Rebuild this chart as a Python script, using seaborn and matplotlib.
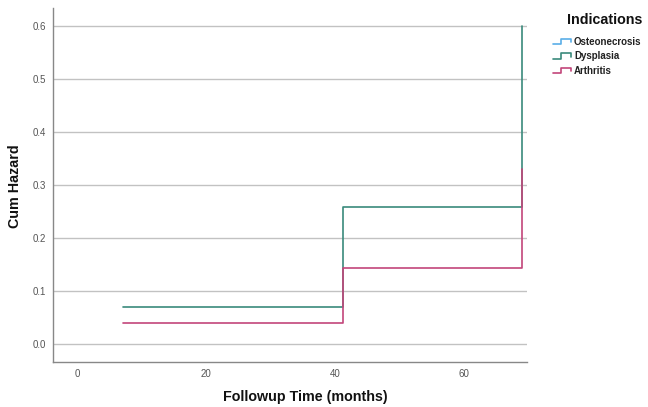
import matplotlib
matplotlib.use("Agg")
import matplotlib.pyplot as plt
import seaborn as sns
import pandas as pd
from matplotlib.legend_handler import HandlerBase
from matplotlib.lines import Line2D

sns.set_theme(style="white")
plt.rcParams['font.family'] = ['Liberation Sans', 'DejaVu Sans']

groups = ["Osteonecrosis", "Dysplasia", "Arthritis"]
colors = ["#5aaee8", "#3a8a7c", "#c2457a"]
dys_time = [7.2, 41.2, 69.1]
dys_hazard = [0.07, 0.258, 0.60]
art_time = [7.2, 41.2, 69.1]
art_hazard = [0.04, 0.143, 0.33]
x_ticks = [0, 20, 40, 60]
y_ticks = [0.0, 0.1, 0.2, 0.3, 0.4, 0.5, 0.6]

df = pd.concat([
    pd.DataFrame({"time": dys_time, "hazard": dys_hazard, "group": "Dysplasia"}),
    pd.DataFrame({"time": art_time, "hazard": art_hazard, "group": "Arthritis"}),
])

fig = plt.figure(figsize=(6.48, 4.07), dpi=100)
ax = fig.add_axes([0.082, 0.111, 0.731, 0.869])

for y in y_ticks:
    ax.axhline(y, color="#c2c2c2", lw=1.0, zorder=0)

palette = dict(zip(groups, colors))
sns.lineplot(data=df, x="time", y="hazard", hue="group", palette=palette,
             drawstyle="steps-post", lw=1.2, ax=ax, legend=False,
             estimator=None, sort=False)

ax.set_xlim(-3.7, 69.8)
ax.set_ylim(-0.034, 0.634)
ax.set_xticks(x_ticks)
ax.set_yticks(y_ticks)
ax.set_yticklabels([f"{v:.1f}" for v in y_ticks])
ax.tick_params(axis="both", length=0, labelsize=7, colors="#555555", pad=5)
for s in ["top", "right"]:
    ax.spines[s].set_visible(False)
for s in ["left", "bottom"]:
    ax.spines[s].set_color("#888888")
    ax.spines[s].set_linewidth(1.0)

ax.set_xlabel("")
ax.set_ylabel("")
fig.text(305 / 648, 1 - 397 / 407, "Followup Time (months)", fontsize=10.3,
         fontweight="bold", color="#111111", ha="center", va="center")
fig.text(15 / 648, 1 - 186 / 407, "Cum Hazard", fontsize=10.3, rotation=90,
         fontweight="bold", color="#111111", ha="center", va="center")
fig.text(605 / 648, 1 - 20 / 407, "Indications", fontsize=10.3,
         fontweight="bold", color="#111111", ha="center", va="center")


class StepHandler(HandlerBase):
    def create_artists(self, legend, orig_handle, xdescent, ydescent, width, height, fontsize, trans):
        x0 = -xdescent
        y0 = -ydescent
        xs = [x0, x0 + width * 0.45, x0 + width * 0.45, x0 + width, x0 + width]
        ys = [y0 + height * 0.1, y0 + height * 0.1, y0 + height * 0.9, y0 + height * 0.9, y0 + height * 0.4]
        l = Line2D(xs, ys, color=orig_handle.get_color(), lw=1.2, transform=trans)
        return [l]


handles = [Line2D([0], [0], color=c) for c in colors]
leg = fig.legend(handles, groups, loc="upper left", bbox_to_anchor=(553 / 648, 1 - 37 / 407),
                 frameon=False, fontsize=7, borderpad=0, borderaxespad=0,
                 handler_map={Line2D: StepHandler()}, handlelength=1.8,
                 handletextpad=0.35, labelspacing=0.45)
for t in leg.get_texts():
    t.set_fontweight("bold")
    t.set_color("#222222")

fig.savefig("out.png", dpi=100)
